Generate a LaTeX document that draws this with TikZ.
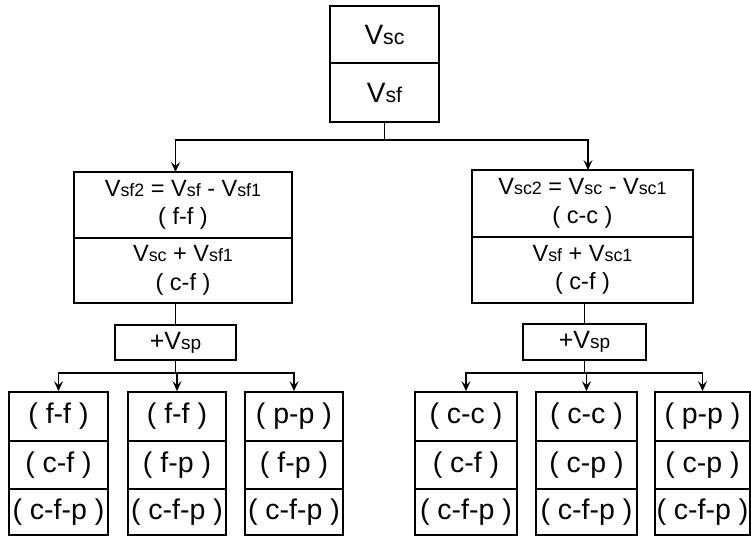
\documentclass[tikz,border=0pt]{standalone}
\usepackage{fontspec}
\setmainfont{Liberation Sans}
\usepackage{graphicx}
\usetikzlibrary{arrows.meta}
\newcommand{\lo}[1]{\scalebox{0.76}{#1}}
\begin{document}
\begin{tikzpicture}[x=1pt,y=-1pt,line width=1.7pt,
  cell/.style={draw,rectangle,inner sep=0pt,align=center},
  topf/.style={font=\fontsize{28}{30}\selectfont},
  midf/.style={font=\fontsize{23.5}{28.5}\selectfont},
  spf/.style={font=\fontsize{25}{27}\selectfont},
  botf/.style={font=\fontsize{28.5}{30}\selectfont},
  arr/.style={-{Stealth[length=10pt,width=9pt,inset=4pt]}}]
\useasboundingbox (0,0) rectangle (751,539);
% top
\node[cell,topf,minimum width=109pt,minimum height=57pt] (t1) at (384.5,34.5) {V\lo{sc}};
\node[cell,topf,minimum width=109pt,minimum height=59pt] (t2) at (384.5,92.5) {V\lo{sf}};
% middle left
\node[cell,midf,minimum width=218pt,minimum height=66pt] (L1) at (183,205) {V\lo{sf2} = V\lo{sf} - V\lo{sf1}\\( f-f )};
\node[cell,midf,minimum width=218pt,minimum height=65pt] (L2) at (183,270.5) {V\lo{sc} + V\lo{sf1}\\( c-f )};
\node[cell,spf,minimum width=121pt,minimum height=35pt] (Lsp) at (175.5,342.5) {+V\lo{sp}};
% middle right
\node[cell,midf,minimum width=221pt,minimum height=67pt] (R1) at (582.5,203.5) {V\lo{sc2} = V\lo{sc} - V\lo{sc1}\\( c-c )};
\node[cell,midf,minimum width=221pt,minimum height=66pt] (R2) at (582.5,270) {V\lo{sf} + V\lo{sc1}\\( c-f )};
\node[cell,spf,minimum width=123pt,minimum height=36pt] (Rsp) at (584.5,342) {+V\lo{sp}};
% bottom left
\node[cell,botf,minimum width=99pt,minimum height=49pt] (a1) at (58.5,416.5) {( f-f )};
\node[cell,botf,minimum width=99pt,minimum height=48pt] (a2) at (58.5,465) {( c-f )};
\node[cell,botf,minimum width=99pt,minimum height=46pt] (a3) at (58.5,512) {( c-f-p )};
\node[cell,botf,minimum width=98pt,minimum height=49pt] (b1) at (177,416.5) {( f-f )};
\node[cell,botf,minimum width=98pt,minimum height=48pt] (b2) at (177,465) {( f-p )};
\node[cell,botf,minimum width=98pt,minimum height=46pt] (b3) at (177,512) {( c-f-p )};
\node[cell,botf,minimum width=98pt,minimum height=49pt] (c1) at (294,416.5) {( p-p )};
\node[cell,botf,minimum width=98pt,minimum height=48pt] (c2) at (294,465) {( f-p )};
\node[cell,botf,minimum width=98pt,minimum height=46pt] (c3) at (294,512) {( c-f-p )};
% bottom right
\node[cell,botf,minimum width=102pt,minimum height=49pt] (d1) at (466,416.5) {( c-c )};
\node[cell,botf,minimum width=102pt,minimum height=48pt] (d2) at (466,465) {( c-f )};
\node[cell,botf,minimum width=102pt,minimum height=46pt] (d3) at (466,512) {( c-f-p )};
\node[cell,botf,minimum width=101pt,minimum height=49pt] (e1) at (586.5,416.5) {( c-c )};
\node[cell,botf,minimum width=101pt,minimum height=48pt] (e2) at (586.5,465) {( c-p )};
\node[cell,botf,minimum width=101pt,minimum height=46pt] (e3) at (586.5,512) {( c-f-p )};
\node[cell,botf,minimum width=95pt,minimum height=49pt] (f1) at (702.5,416.5) {( p-p )};
\node[cell,botf,minimum width=95pt,minimum height=48pt] (f2) at (702.5,465) {( c-p )};
\node[cell,botf,minimum width=95pt,minimum height=46pt] (f3) at (702.5,512) {( c-f-p )};
% connectors
\coordinate (j0) at (384.5,140);
\coordinate (Lin) at (175.5,172);
\coordinate (Rin) at (588,170);
\draw (t2.south) -- (j0);
\draw[arr] (j0) -| (Lin);
\draw[arr] (j0) -| (Rin);
\draw (Lsp.north |- L2.south) -- (Lsp.north);
\draw (Rsp.north |- R2.south) -- (Rsp.north);
\coordinate (jl) at (175.5,373);
\coordinate (jr) at (584.5,373);
\draw (Lsp.south) -- (jl);
\draw (Rsp.south) -- (jr);
\draw[arr] (jl) -| (a1.north);
\draw[arr] (jl) -| (b1.north);
\draw[arr] (jl) -| (c1.north);
\draw[arr] (jr) -| (d1.north);
\draw[arr] (jr) -| (e1.north);
\draw[arr] (jr) -| (f1.north);
\end{tikzpicture}
\end{document}
